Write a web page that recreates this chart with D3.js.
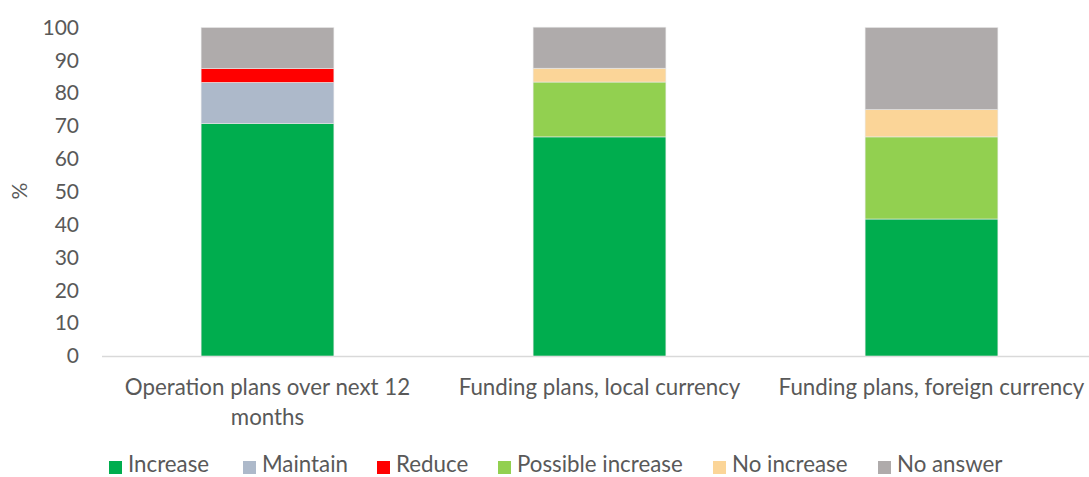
<!DOCTYPE html>
<html><head><meta charset="utf-8">
<script src="https://cdn.jsdelivr.net/npm/d3@7"></script>
<style>body{margin:0;background:#fff;} text{font-family:Lato, "Open Sans", sans-serif; fill:#595959;}</style>
</head><body><svg id="c" width="1089" height="477"></svg>
<script>
const categories = ["Operation plans over next 12 months", "Funding plans, local currency", "Funding plans, foreign currency"];
const seriesNames = ["Increase", "Maintain", "Reduce", "Possible increase", "No increase", "No answer"];
const increase = [70.8, 66.7, 41.7];
const maintain = [12.5, 0, 0];
const reduce = [4.2, 0, 0];
const possibleIncrease = [0, 16.7, 25.0];
const noIncrease = [0, 4.2, 8.3];
const noAnswer = [12.5, 12.5, 25.0];
const yTicks = [0, 10, 20, 30, 40, 50, 60, 70, 80, 90, 100];
const colors = ["#00ad4e", "#adb9ca", "#ff0000", "#92d050", "#fbd598", "#afabab"];

const seriesValues = [increase, maintain, reduce, possibleIncrease, noIncrease, noAnswer];
const rows = categories.map((c, i) => {
  const r = {cat: c};
  seriesNames.forEach((s, j) => r[s] = seriesValues[j][i]);
  return r;
});
const stack = d3.stack().keys(seriesNames)(rows);

const svg = d3.select("#c");
const x = d3.scaleBand().domain(categories).range([101.5, 1097.5]).paddingInner(0.6).paddingOuter(0.3);
const y = d3.scaleLinear().domain([0, 100]).range([356, 27.5]);
const fsTick = 21, fsCat = 22.3, fsLeg = 22.3;

// axis line
svg.append("line").attr("x1", 102).attr("x2", 1089).attr("y1", 356.5).attr("y2", 356.5)
  .attr("stroke", "#d9d9d9").attr("stroke-width", 1.5);

// y tick labels
const yAxis = d3.axisLeft(y).tickValues(yTicks).tickSize(0).tickPadding(0);
const yg = svg.append("g").attr("transform", "translate(79,0)").call(yAxis);
yg.select(".domain").remove();
yg.selectAll("text").style("font-size", fsTick + "px").attr("fill", "#595959").style("font-family", "Lato");

svg.append("text").attr("transform", "translate(27,191) rotate(-90)").attr("text-anchor", "middle")
  .style("font-size", fsTick + "px").text("%");

// bars
svg.append("g").selectAll("g").data(stack).join("g").attr("fill", (d, i) => colors[i])
  .selectAll("rect").data(d => d).join("rect")
  .attr("x", d => x(d.data.cat)).attr("width", x.bandwidth())
  .attr("y", d => y(d[1])).attr("height", d => Math.max(0, y(d[0]) - y(d[1])))
  .attr("stroke", "#e8e8e8").attr("stroke-width", 0.6);

// category labels with wrap
const xg = svg.append("g");
categories.forEach(c => {
  const cx = x(c) + x.bandwidth() / 2;
  const t = xg.append("text").attr("x", cx).attr("y", 395)
    .attr("text-anchor", "middle").style("font-size", fsCat + "px");
  const words = c.split(" ");
  let line = [], tspan = t.append("tspan").attr("x", cx);
  words.forEach(w => {
    line.push(w);
    tspan.text(line.join(" "));
    if (tspan.node().getComputedTextLength() > x.step() - 8 && line.length > 1) {
      line.pop();
      tspan.text(line.join(" "));
      line = [w];
      tspan = t.append("tspan").attr("x", cx).attr("dy", 30).text(w);
    }
  });
});

// legend
const legendX = [109, 243, 377, 498, 713, 878];
const lg = svg.append("g");
seriesNames.forEach((s, i) => {
  lg.append("rect").attr("x", legendX[i]).attr("y", 461).attr("width", 13).attr("height", 13).attr("fill", colors[i]);
  lg.append("text").attr("x", legendX[i] + 19).attr("y", 472).style("font-size", fsLeg + "px").text(s);
});
</script></body></html>
